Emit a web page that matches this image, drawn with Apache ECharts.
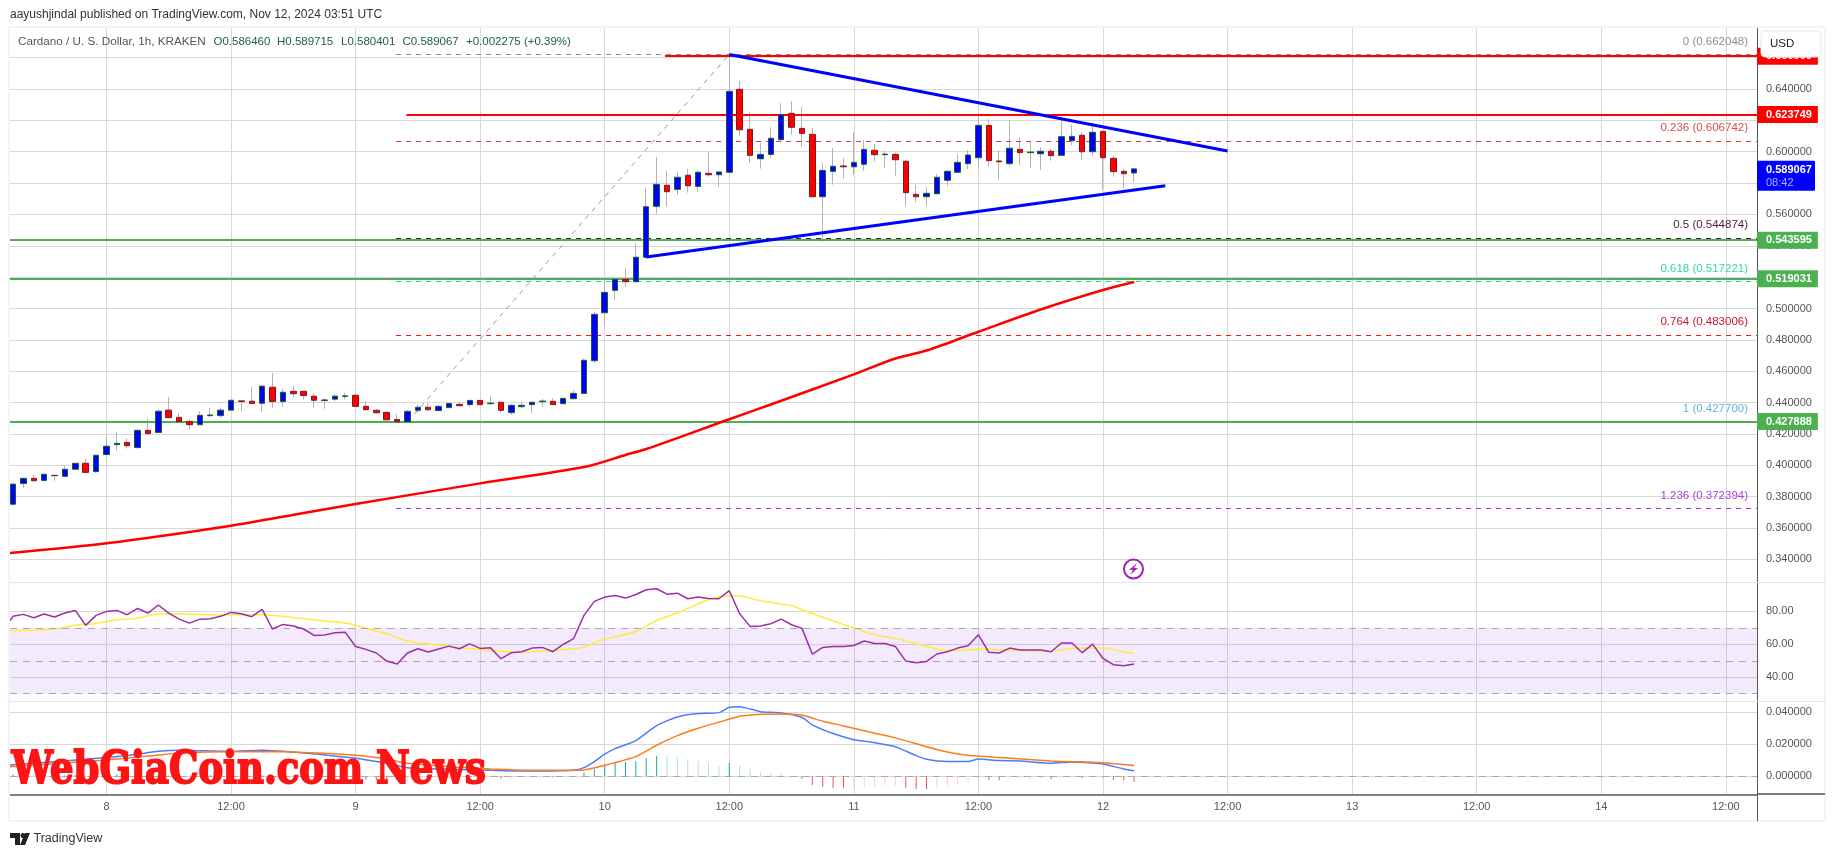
<!DOCTYPE html>
<html>
<head>
<meta charset="utf-8">
<title>Cardano / U. S. Dollar, 1h</title>
<script src="https://cdn.jsdelivr.net/npm/echarts@6/dist/echarts.min.js"></script>
<style>
  html, body { margin: 0; padding: 0; background: #fff; }
  #main { width: 1835px; height: 857px; }
</style>
</head>
<body>
<div id="main"></div>
<script>
// hourly candles, first one is Nov 7 15:00
const opens = [
  0.3752, 0.3884, 0.3917, 0.3904, 0.3936, 0.3930, 0.3975, 0.4013, 0.3960, 0.4069,
  0.4132, 0.4146, 0.4113, 0.4223, 0.4210, 0.4352, 0.4306, 0.4280, 0.4259, 0.4317,
  0.4317, 0.4352, 0.4411, 0.4409, 0.4396, 0.4498, 0.4407, 0.4472, 0.4472, 0.4441,
  0.4413, 0.4422, 0.4439, 0.4447, 0.4376, 0.4351, 0.4338, 0.4292, 0.4278, 0.4351,
  0.4370, 0.4349, 0.4368, 0.4389, 0.4387, 0.4414, 0.4393, 0.4402, 0.4336, 0.4374,
  0.4387, 0.4406, 0.4408, 0.4393, 0.4425, 0.4459, 0.4667, 0.4973, 0.5116, 0.5186,
  0.5171, 0.5327, 0.5652, 0.5786, 0.5760, 0.5850, 0.5779, 0.5862, 0.5853, 0.5869,
  0.6398, 0.6143, 0.5955, 0.5983, 0.6077, 0.6245, 0.6149, 0.6111, 0.5713, 0.5875,
  0.5909, 0.5904, 0.5920, 0.6009, 0.5981, 0.5983, 0.5939, 0.5728, 0.5713, 0.5732,
  0.5818, 0.5869, 0.5924, 0.5962, 0.6168, 0.5941, 0.5924, 0.6015, 0.5994, 0.5987,
  0.6003, 0.5977, 0.6070, 0.6105, 0.6000, 0.6130, 0.5958, 0.5875, 0.586460
]
const closes = [
  0.3880, 0.3917, 0.3902, 0.3943, 0.3934, 0.3975, 0.4013, 0.3955, 0.4064, 0.4122,
  0.4140, 0.4125, 0.4223, 0.4202, 0.4345, 0.4304, 0.4278, 0.4259, 0.4319, 0.4321,
  0.4352, 0.4415, 0.4407, 0.4394, 0.4505, 0.4407, 0.4466, 0.4457, 0.4445, 0.4415,
  0.4417, 0.4441, 0.4443, 0.4376, 0.4355, 0.4335, 0.4290, 0.4278, 0.4344, 0.4370,
  0.4355, 0.4376, 0.4395, 0.4380, 0.4414, 0.4387, 0.4397, 0.4351, 0.4383, 0.4383,
  0.4402, 0.4410, 0.4387, 0.4427, 0.4459, 0.4670, 0.4963, 0.5103, 0.5186, 0.5171,
  0.5327, 0.5649, 0.5792, 0.5745, 0.5837, 0.5783, 0.5869, 0.5853, 0.5871, 0.6385,
  0.6140, 0.5977, 0.5983, 0.6086, 0.6236, 0.6156, 0.6117, 0.5713, 0.5881, 0.5907,
  0.5904, 0.5932, 0.6015, 0.5981, 0.5985, 0.5949, 0.5739, 0.5713, 0.5735, 0.5837,
  0.5875, 0.5932, 0.5979, 0.6168, 0.5943, 0.5936, 0.6022, 0.5994, 0.5998, 0.6003,
  0.5975, 0.6096, 0.6098, 0.6000, 0.6124, 0.5962, 0.5873, 0.5860, 0.589067
]
const lows = [
  0.3741, 0.3857, 0.3895, 0.3895, 0.3902, 0.3927, 0.3975, 0.3953, 0.3953, 0.4052,
  0.4094, 0.4107, 0.4113, 0.4196, 0.4208, 0.4304, 0.4278, 0.4227, 0.4259, 0.4306,
  0.4304, 0.4349, 0.4343, 0.4391, 0.4343, 0.4368, 0.4374, 0.4432, 0.4420, 0.4368,
  0.4361, 0.4407, 0.4420, 0.4374, 0.4351, 0.4331, 0.4288, 0.4278, 0.4277, 0.4336,
  0.4344, 0.4349, 0.4368, 0.4380, 0.4374, 0.4385, 0.4387, 0.4336, 0.4323, 0.4363,
  0.4334, 0.4374, 0.4385, 0.4393, 0.4423, 0.4457, 0.4655, 0.4888, 0.5054, 0.5139,
  0.5171, 0.5327, 0.5605, 0.5649, 0.5726, 0.5739, 0.5745, 0.5841, 0.5777, 0.5869,
  0.6102, 0.5930, 0.5892, 0.5962, 0.6064, 0.6109, 0.6032, 0.5713, 0.5426, 0.5790,
  0.5828, 0.5853, 0.5879, 0.5939, 0.5896, 0.5847, 0.5654, 0.5679, 0.5654, 0.5732,
  0.5781, 0.5869, 0.5890, 0.5890, 0.5904, 0.5820, 0.5911, 0.5915, 0.5896, 0.5883,
  0.5943, 0.5977, 0.6043, 0.5947, 0.5975, 0.5756, 0.5841, 0.5769, 0.580401
]
const highs = [
  0.3880, 0.3917, 0.3938, 0.3943, 0.3936, 0.3996, 0.4013, 0.4041, 0.4064, 0.4184,
  0.4212, 0.4172, 0.4230, 0.4295, 0.4354, 0.4437, 0.4332, 0.4295, 0.4347, 0.4367,
  0.4369, 0.4415, 0.4411, 0.4500, 0.4505, 0.4590, 0.4488, 0.4507, 0.4472, 0.4459,
  0.4428, 0.4455, 0.4462, 0.4447, 0.4411, 0.4359, 0.4344, 0.4327, 0.4354, 0.4387,
  0.4395, 0.4385, 0.4395, 0.4408, 0.4417, 0.4417, 0.4442, 0.4402, 0.4389, 0.4408,
  0.4404, 0.4425, 0.4427, 0.4427, 0.4480, 0.4680, 0.4980, 0.5188, 0.5186, 0.5258,
  0.5416, 0.5769, 0.5968, 0.5877, 0.5871, 0.5890, 0.5881, 0.5998, 0.5871, 0.662048,
  0.6451, 0.6251, 0.6057, 0.6156, 0.6309, 0.6323, 0.6285, 0.6149, 0.5928, 0.6024,
  0.5960, 0.6126, 0.6075, 0.6049, 0.6006, 0.5994, 0.5947, 0.5788, 0.5773, 0.5858,
  0.5883, 0.5985, 0.6011, 0.6245, 0.6209, 0.6011, 0.6202, 0.6092, 0.6066, 0.6028,
  0.6019, 0.6213, 0.6170, 0.6121, 0.6185, 0.6130, 0.5973, 0.5890, 0.589715
]

// the red moving average, read at these candles
const maIdx = [-0.29, 9, 21, 28, 33, 45, 55, 59, 61, 69, 73, 81, 85, 88, 93, 99, 105, 108]
const maVal = [0.3441, 0.3503, 0.3615, 0.3696, 0.3753, 0.3885, 0.3989, 0.4066, 0.4104, 0.4294, 0.4388, 0.4580, 0.4681, 0.4732, 0.4852, 0.4994, 0.5118, 0.5169]

// hand drawn lines
const upperTrendIdx = [69, 117]
const upperTrendVal = [0.662048, 0.6005]
const lowerTrendIdx = [61, 111]
const lowerTrendVal = [0.5329, 0.5783]
const fibDiagIdx = [38, 69]
const fibDiagVal = [0.4277, 0.662048]

const fibRatios = ['0', '0.236', '0.5', '0.618', '0.764', '1', '1.236']
const fibValues = [0.662048, 0.606742, 0.544874, 0.517221, 0.483006, 0.4277, 0.372394]

const resistanceValues = [0.6609, 0.623749]
const supportValues = [0.543595, 0.519031, 0.427888]

// value at the left edge of the plot, before the first candle
const rsiLead = 74.5
const rsi = [
  77.0, 78.2, 76.1, 78.4, 76.6, 79.0, 80.6, 71.5, 77.6, 80.0,
  80.6, 78.0, 81.8, 79.0, 83.9, 79.0, 75.3, 72.9, 75.3, 75.5,
  77.0, 79.4, 78.6, 76.8, 81.2, 69.3, 72.1, 71.1, 69.3, 65.4,
  65.6, 67.0, 67.4, 58.7, 56.9, 54.7, 49.8, 48.0, 54.7, 57.3,
  55.3, 57.1, 58.9, 57.3, 60.3, 57.5, 57.9, 51.2, 54.9, 55.5,
  57.7, 58.1, 55.5, 59.9, 63.4, 77.6, 86.1, 88.7, 89.7, 88.1,
  90.3, 93.2, 93.8, 90.5, 91.1, 87.7, 88.7, 87.9, 87.7, 92.6,
  78.6, 70.9, 71.1, 72.5, 75.3, 71.9, 69.7, 54.1, 58.1, 58.7,
  58.7, 59.3, 62.0, 60.5, 60.5, 58.7, 49.8, 48.8, 49.6, 54.1,
  55.5, 57.7, 59.1, 65.8, 55.1, 54.7, 57.7, 56.5, 56.5, 56.5,
  55.5, 60.8, 60.8, 54.9, 60.1, 51.4, 47.6, 47.0, 48.0
]
const rsiMaIdx = [-0.29, 4, 6, 8, 10, 12, 14, 16, 20, 24, 28, 32, 33, 36, 38, 42, 46, 49, 52, 54, 55, 56, 57, 60, 62, 64, 67, 69, 70, 72, 75, 76, 78, 81, 83, 85, 88, 90, 92, 93, 96, 100, 102, 105, 107, 108]
const rsiMaVal = [68.2, 69.3, 71.7, 72.7, 74.9, 75.9, 78.4, 78.4, 77.8, 78.0, 75.5, 72.9, 71.5, 66.4, 62.0, 58.7, 56.3, 55.3, 56.3, 57.3, 58.3, 60.8, 63.2, 67.8, 74.5, 79.0, 87.1, 89.5, 89.3, 86.5, 83.4, 81.0, 76.5, 69.9, 65.8, 63.6, 58.7, 56.3, 56.5, 57.1, 56.5, 55.7, 57.5, 57.7, 55.3, 54.7]

const macdIdx = [-0.29, 9, 12, 14, 16, 21, 24, 28, 33, 36, 38, 42, 46, 50, 54, 55, 56, 57, 58, 60, 62, 64, 66, 68, 69, 70, 72, 74, 76, 77, 79, 81, 83, 85, 87, 88, 90, 92, 93, 95, 97, 100, 102, 104, 105, 107, 108]
const macdVal = [0.0071, 0.0117, 0.0138, 0.0156, 0.0163, 0.0156, 0.0163, 0.0146, 0.0113, 0.0081, 0.0054, 0.0044, 0.0038, 0.0033, 0.0038, 0.0054, 0.0092, 0.0138, 0.0173, 0.0223, 0.0317, 0.0371, 0.0392, 0.0398, 0.0431, 0.0435, 0.0404, 0.0396, 0.0369, 0.0321, 0.0267, 0.0229, 0.0210, 0.0185, 0.0129, 0.0106, 0.0092, 0.0092, 0.0108, 0.0098, 0.0096, 0.0081, 0.0090, 0.0083, 0.0077, 0.0046, 0.0035]
const signalIdx = [-0.29, 9, 14, 16, 21, 26, 30, 33, 36, 38, 42, 46, 50, 54, 55, 57, 60, 62, 64, 66, 68, 70, 72, 74, 76, 78, 80, 83, 85, 88, 90, 92, 95, 100, 104, 105, 108]
const signalVal = [0.0060, 0.0102, 0.0133, 0.0146, 0.0154, 0.0154, 0.0144, 0.0131, 0.0108, 0.0081, 0.0060, 0.0046, 0.0038, 0.0038, 0.0040, 0.0069, 0.0123, 0.0194, 0.0254, 0.0300, 0.0338, 0.0375, 0.0388, 0.0390, 0.0383, 0.0344, 0.0315, 0.0269, 0.0240, 0.0185, 0.0152, 0.0131, 0.0117, 0.0096, 0.0088, 0.0085, 0.0067]
const hist = [
  0.0011, 0.0008, 0.0006, 0.0005, 0.0004, 0.0007, 0.0008, 0.0007, 0.0008, 0.0010,
  0.0011, 0.0009, 0.0011, 0.0009, 0.0010, 0.0009, 0.0008, 0.0006, 0.0005, 0.0006,
  0.0005, 0.0006, 0.0005, 0.0004, 0.0006, 0.0003, 0.0002, 0.0001, -0.0001, -0.0002,
  -0.0003, -0.0005, -0.0007, -0.0016, -0.0020, -0.0021, -0.0025, -0.0027, -0.0026, -0.0024,
  -0.0021, -0.0019, -0.0017, -0.0014, -0.0013, -0.0012, -0.0011, -0.0014, -0.0011, -0.0008,
  -0.0007, -0.0005, -0.0006, -0.0003, -0.0001, 0.0023, 0.0046, 0.0071, 0.0085, 0.0090,
  0.0096, 0.0113, 0.0127, 0.0126, 0.0119, 0.0108, 0.0096, 0.0083, 0.0065, 0.0083,
  0.0071, 0.0046, 0.0027, 0.0015, 0.0014, -0.0002, -0.0017, -0.0054, -0.0067, -0.0073,
  -0.0074, -0.0067, -0.0066, -0.0065, -0.0058, -0.0057, -0.0073, -0.0079, -0.0080, -0.0073,
  -0.0060, -0.0054, -0.0042, -0.0008, -0.0023, -0.0024, -0.0015, -0.0014, -0.0013, -0.0012,
  -0.0017, -0.0006, -0.0002, -0.0010, -0.0004, -0.0008, -0.0023, -0.0027, -0.0033
]

// axis ticks
const timeTickIdx = [9, 21, 33, 45, 57, 69, 81, 93, 105, 117, 129, 141, 153, 165]
const timeTickLabels = ['8', '12:00', '9', '12:00', '10', '12:00', '11', '12:00', '12', '12:00', '13', '12:00', '14', '12:00']
const priceTicks = [0.34, 0.36, 0.38, 0.40, 0.42, 0.44, 0.46, 0.48, 0.50, 0.52, 0.54, 0.56, 0.58, 0.60, 0.62, 0.64, 0.66]
const rsiTicks = [40, 60, 80]
const macdTicks = [0, 0.02, 0.04]

const FONT = 'Liberation Sans'
const GRID_COLOR = '#d8d8d8'
const AXIS_COLOR = '#555555'
const fibColors = ['#8a8d96', '#d23b3b', '#4a1a3c', '#22cf9f', '#f01818', '#62b4e0', '#a52ae0']
const fibLabelColors = ['#8a8d96', '#df4a4a', '#4a1a3c', '#36d3a8', '#c9152c', '#62b4e0', '#a83fd8']

const xMin = -0.29
const xMax = 168
const fibStart = 36.9

const pairs = (xs, ys) => xs.map((x, i) => [x, ys[i]])
const wickData = opens.map((o, i) => [i, o, closes[i], lows[i], highs[i]])
const bodyData = opens.map((o, i) => [i, o, closes[i], Math.min(o, closes[i]), Math.max(o, closes[i])])

const makeXAxis = (gridIndex, showLabels) => ({
  type: 'value',
  gridIndex,
  min: xMin,
  max: xMax,
  axisLine: {show: showLabels, onZero: false, lineStyle: {color: AXIS_COLOR, width: 1.5}},
  axisTick: {show: false, customValues: timeTickIdx},
  splitLine: {show: true, lineStyle: {color: GRID_COLOR, width: 1}},
  axisLabel: {
    show: showLabels,
    customValues: timeTickIdx,
    hideOverlap: false,
    margin: 7,
    color: AXIS_COLOR,
    fontFamily: FONT,
    fontSize: 11,
    formatter: v => timeTickLabels[timeTickIdx.indexOf(v)]
  }
})

const makeYAxis = (gridIndex, min, max, ticks, digits) => ({
  type: 'value',
  gridIndex,
  position: 'right',
  min,
  max,
  axisLine: {show: true, onZero: false, lineStyle: {color: AXIS_COLOR, width: 1}},
  axisTick: {show: false, customValues: ticks},
  splitLine: {show: true, lineStyle: {color: GRID_COLOR, width: 1}},
  axisLabel: {
    customValues: ticks,
    margin: 9,
    color: AXIS_COLOR,
    fontFamily: FONT,
    fontSize: 11,
    formatter: v => v.toFixed(digits)
  }
})

const tagLine = (startIdx, value, color) => [
  {
    xAxis: startIdx,
    yAxis: value,
    lineStyle: {color, width: 2, type: 'solid'},
    label: {
      show: true,
      position: 'end',
      distance: 0,
      formatter: value.toFixed(6),
      color: '#ffffff',
      fontFamily: FONT,
      fontSize: 11,
      fontWeight: 'bold',
      backgroundColor: color,
      padding: [3, 6, 3, 9]
    }
  },
  {xAxis: xMax, yAxis: value}
]

const fibLine = (i) => [
  {
    xAxis: fibStart,
    yAxis: fibValues[i],
    lineStyle: {color: fibColors[i], width: 1, type: [5, 5]},
    label: {
      show: true,
      position: 'insideEndTop',
      distance: [9, 7],
      formatter: fibRatios[i] + ' (' + fibValues[i].toFixed(6) + ')',
      color: fibLabelColors[i],
      fontFamily: FONT,
      fontSize: 11.5
    }
  },
  {xAxis: xMax, yAxis: fibValues[i]}
]

const histColor = (params) => {
  const i = params.dataIndex
  const prev = i > 0 ? hist[i - 1] : 0
  if (hist[i] >= 0) return hist[i] > prev ? '#26a69a' : '#b2dfdb'
  return hist[i] > prev ? '#ffcdd2' : '#ef5350'
}

const headerText = (x, y, text, fill, fontSize) => ({
  type: 'text',
  x,
  y,
  z: 60,
  silent: true,
  style: {text, fill, font: fontSize + 'px "' + FONT + '"', textVerticalAlign: 'middle'}
})

const frameLine = (x1, y1, x2, y2, stroke, lineWidth) => ({
  type: 'line',
  z: 50,
  silent: true,
  shape: {x1, y1, x2, y2},
  style: {stroke, lineWidth}
})

const chart = echarts.init(document.getElementById('main'))
chart.setOption({
  animation: false,
  backgroundColor: '#ffffff',
  grid: [
    {left: 10, right: 78, top: 28, height: 554.3},
    {left: 10, right: 78, top: 582.3, height: 118.5},
    {left: 10, right: 78, top: 701, height: 93.3}
  ],
  xAxis: [makeXAxis(0, false), makeXAxis(1, false), makeXAxis(2, true)],
  yAxis: [
    makeYAxis(0, 0.3254, 0.67891, priceTicks, 6),
    makeYAxis(1, 25.65, 97.7, rsiTicks, 2),
    makeYAxis(2, -0.01125, 0.04706, macdTicks, 6)
  ],
  series: [
    {
      name: 'levels',
      type: 'line',
      data: [],
      z: 2,
      silent: true,
      markLine: {
        silent: true,
        symbol: 'none',
        animation: false,
        data: fibValues.map((v, i) => fibLine(i))
      }
    },
    {
      name: 'support resistance',
      type: 'line',
      data: [],
      z: 3,
      silent: true,
      markLine: {
        silent: true,
        symbol: 'none',
        animation: false,
        data: [
          tagLine(62.8, resistanceValues[0], '#ff0000'),
          tagLine(37.9, resistanceValues[1], '#ff0000'),
          tagLine(xMin, supportValues[0], '#4caf50'),
          tagLine(xMin, supportValues[1], '#4caf50'),
          tagLine(xMin, supportValues[2], '#4caf50')
        ]
      }
    },
    {
      name: 'fib trend',
      type: 'line',
      data: pairs(fibDiagIdx, fibDiagVal),
      symbol: 'none',
      z: 3,
      lineStyle: {color: '#9a9a9a', width: 1, type: [5, 5]}
    },
    {
      name: 'wicks',
      type: 'candlestick',
      data: wickData,
      barWidth: 1,
      z: 4,
      itemStyle: {color: '#b4b4b4', color0: '#b4b4b4', borderColor: '#b4b4b4', borderColor0: '#b4b4b4', borderColorDoji: '#b4b4b4', borderWidth: 1}
    },
    {
      name: 'ADA/USD',
      type: 'candlestick',
      data: bodyData,
      barWidth: 6,
      z: 5,
      itemStyle: {color: '#0000ff', color0: '#ff0000', borderColor: '#1d5c30', borderColor0: '#7d1a28', borderColorDoji: '#1d5c30', borderWidth: 1}
    },
    {
      name: 'MA',
      type: 'line',
      data: pairs(maIdx, maVal),
      symbol: 'none',
      smooth: 0.3,
      z: 6,
      lineStyle: {color: '#ff0000', width: 2.5}
    },
    {
      name: 'upper trend',
      type: 'line',
      data: pairs(upperTrendIdx, upperTrendVal),
      symbol: 'none',
      z: 7,
      lineStyle: {color: '#0000ff', width: 3}
    },
    {
      name: 'lower trend',
      type: 'line',
      data: pairs(lowerTrendIdx, lowerTrendVal),
      symbol: 'none',
      z: 7,
      lineStyle: {color: '#0000ff', width: 3}
    },
    {
      name: 'RSI',
      type: 'line',
      xAxisIndex: 1,
      yAxisIndex: 1,
      data: [[xMin, rsiLead]].concat(rsi.map((v, i) => [i, v])),
      symbol: 'none',
      z: 5,
      lineStyle: {color: '#9c2fa8', width: 1.5},
      markArea: {
        silent: true,
        itemStyle: {color: 'rgba(156, 60, 240, 0.11)'},
        data: [[{yAxis: 70}, {yAxis: 30}]]
      },
      markLine: {
        silent: true,
        symbol: 'none',
        label: {show: false},
        lineStyle: {color: '#aaaaaa', width: 1, type: [7, 6]},
        data: [{yAxis: 70}, {yAxis: 50}, {yAxis: 30}]
      }
    },
    {
      name: 'RSI MA',
      type: 'line',
      xAxisIndex: 1,
      yAxisIndex: 1,
      data: pairs(rsiMaIdx, rsiMaVal),
      symbol: 'none',
      smooth: 0.3,
      z: 4,
      lineStyle: {color: '#ffeb3b', width: 1.5}
    },
    {
      name: 'Histogram',
      type: 'bar',
      xAxisIndex: 2,
      yAxisIndex: 2,
      data: hist.map((v, i) => [i, v]),
      barWidth: 1,
      z: 3,
      itemStyle: {color: histColor}
    },
    {
      name: 'MACD',
      type: 'line',
      xAxisIndex: 2,
      yAxisIndex: 2,
      data: pairs(macdIdx, macdVal),
      symbol: 'none',
      smooth: 0.2,
      z: 5,
      lineStyle: {color: '#4a7dfa', width: 1.5},
      markLine: {
        silent: true,
        symbol: 'none',
        label: {show: false},
        lineStyle: {color: '#aaaaaa', width: 1, type: [7, 6]},
        data: [{yAxis: 0}]
      }
    },
    {
      name: 'Signal',
      type: 'line',
      xAxisIndex: 2,
      yAxisIndex: 2,
      data: pairs(signalIdx, signalVal),
      symbol: 'none',
      smooth: 0.2,
      z: 6,
      lineStyle: {color: '#ff7a1a', width: 1.5}
    }
  ],
  graphic: [
    // frame and pane separators
    {type: 'rect', z: 50, silent: true, shape: {x: 9, y: 27, width: 1816, height: 794}, style: {fill: 'none', stroke: '#f0f3fa', lineWidth: 2}},
    frameLine(10, 582.5, 1825, 582.5, '#e0e3eb', 1),
    frameLine(10, 701.5, 1825, 701.5, '#e0e3eb', 1),
    frameLine(1757, 794, 1825, 794, AXIS_COLOR, 1.5),
    frameLine(1757.5, 794, 1757.5, 821, AXIS_COLOR, 1),
    // texts
    headerText(10, 15, 'aayushjindal published on TradingView.com, Nov 12, 2024 03:51 UTC', '#333333', 12),
    headerText(18, 42, 'Cardano / U. S. Dollar, 1h, KRAKEN', '#555555', 11.7),
    headerText(213.5, 42, 'O0.586460', '#24603f', 11.5),
    headerText(277, 42, 'H0.589715', '#24603f', 11.5),
    headerText(341, 42, 'L0.580401', '#24603f', 11.5),
    headerText(402.5, 42, 'C0.589067', '#24603f', 11.5),
    headerText(466, 42, '+0.002275 (+0.39%)', '#24603f', 11.5),
    // current price tag
    {type: 'rect', z: 55, silent: true, shape: {x: 1757, y: 160.7, width: 58, height: 30, r: 1}, style: {fill: '#0000ff'}},
    {type: 'text', z: 56, silent: true, x: 1766, y: 170, style: {text: '0.589067', fill: '#ffffff', font: 'bold 11px "' + FONT + '"', textVerticalAlign: 'middle'}},
    {type: 'text', z: 56, silent: true, x: 1766, y: 183, style: {text: '08:42', fill: '#b3b3ff', font: '11px "' + FONT + '"', textVerticalAlign: 'middle'}},
    // USD button
    {type: 'rect', z: 55, silent: true, shape: {x: 1761, y: 31, width: 60, height: 26, r: 4}, style: {fill: '#ffffff', stroke: '#e6e8f0', lineWidth: 1}},
    headerText(1770, 44, 'USD', '#222222', 11.5),
    // lightning marker
    {type: 'circle', z: 55, silent: true, shape: {cx: 1133.5, cy: 569, r: 9.5}, style: {fill: '#ffffff', stroke: '#9c27b0', lineWidth: 2}},
    {type: 'polygon', z: 56, silent: true, shape: {points: [[1137, 563], [1129, 570], [1133, 570], [1130, 575], [1138, 568], [1134, 568]]}, style: {fill: '#9c27b0'}},
    // watermark
    {
      type: 'text',
      z: 70,
      silent: true,
      x: 10,
      y: 772,
      scaleX: 0.84,
      originX: 10,
      originY: 772,
      style: {
        text: 'WebGiaCoin.com News',
        fill: '#fe1414',
        stroke: '#fe1414',
        lineWidth: 2,
        font: 'bold 44px "DejaVu Serif"',
        textVerticalAlign: 'middle'
      }
    },
    // TradingView logo
    {type: 'polygon', z: 60, silent: true, shape: {points: [[10, 833], [20, 833], [20, 845], [15, 845], [15, 838], [10, 838]]}, style: {fill: '#222222'}},
    {type: 'circle', z: 60, silent: true, shape: {cx: 23, cy: 835.5, r: 2.5}, style: {fill: '#222222'}},
    {type: 'polygon', z: 60, silent: true, shape: {points: [[25, 833], [30, 833], [25, 845], [20, 845]]}, style: {fill: '#222222'}},
    headerText(33.5, 839, 'TradingView', '#333333', 12.5)
  ]
})
</script>
</body>
</html>
